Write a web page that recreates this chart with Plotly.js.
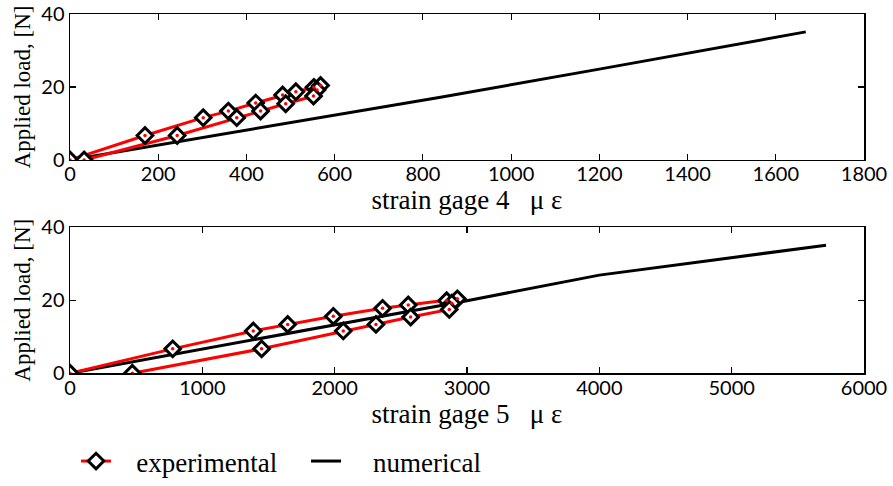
<!DOCTYPE html>
<html>
<head>
<meta charset="utf-8">
<script src="https://cdn.plot.ly/plotly-3.0.1.min.js"></script>
<style>html,body{margin:0;padding:0;background:#fff;}#chart{width:893px;height:486px;}</style>
</head>
<body>
<div id="chart"></div>
<script>
// Experimental loading/unloading cycle (applied load, N)
var loadExp = [0, 6.7, 11.6, 13.4, 15.6, 17.8, 18.7, 19.9, 20.4, 19.2, 17.5, 15.4, 13.4, 11.6, 6.7, 0];
// Strain gage 4 experimental strains (micro-strain)
var strain4Exp = [0, 170, 302, 359, 421, 482, 512, 553, 568, 560, 552, 489, 432, 378, 243, 32];
// Strain gage 5 experimental strains (micro-strain)
var strain5Exp = [0, 776, 1385, 1645, 1990, 2362, 2556, 2846, 2927, 2885, 2866, 2574, 2312, 2065, 1448, 471];
// Numerical curves
var strain4Num = [0, 840, 1200, 1668];
var load4Num = [0, 17.2, 24.9, 35.1];
var strain5Num = [0, 1000, 2000, 3000, 4000, 5713];
var load5Num = [0, 6.6, 13.3, 19.9, 26.9, 35.1];
// Axis ticks
var xTicks4 = [0, 200, 400, 600, 800, 1000, 1200, 1400, 1600, 1800];
var xTicks5 = [0, 1000, 2000, 3000, 4000, 5000, 6000];
var yTicks = [0, 20, 40];

var serif = '"Liberation Serif", "Times New Roman", serif';
var sans = 'Lato, "Open Sans", sans-serif';

var expLine = {color: 'red', width: 3};
var expMarker = {symbol: 'diamond', size: 12, color: 'white', line: {color: 'black', width: 3}};
var dotMarker = {symbol: 'circle', size: 3.5, color: 'red', line: {width: 0}};
var numLine = {color: 'black', width: 3};
var padExp = '&nbsp;&nbsp;&nbsp;';
var padNum = '&nbsp;&nbsp;&nbsp;&nbsp;';

var traces = [
  {x: strain4Num, y: load4Num, xaxis: 'x', yaxis: 'y', mode: 'lines', line: numLine, name: padNum + 'numerical', showlegend: false, legendgroup: 'num'},
  {x: strain4Exp, y: loadExp, xaxis: 'x', yaxis: 'y', mode: 'lines+markers', line: expLine, marker: expMarker, name: padExp + 'experimental', showlegend: true, legendgroup: 'exp'},
  {x: strain4Exp, y: loadExp, xaxis: 'x', yaxis: 'y', mode: 'markers', marker: dotMarker, showlegend: false, hoverinfo: 'skip'},
  {x: strain5Num, y: load5Num, xaxis: 'x2', yaxis: 'y2', mode: 'lines', line: numLine, name: padNum + 'numerical', showlegend: true, legendgroup: 'num'},
  {x: strain5Exp, y: loadExp, xaxis: 'x2', yaxis: 'y2', mode: 'lines+markers', line: expLine, marker: expMarker, name: padExp + 'experimental', showlegend: false, legendgroup: 'exp'},
  {x: strain5Exp, y: loadExp, xaxis: 'x2', yaxis: 'y2', mode: 'markers', marker: dotMarker, showlegend: false, hoverinfo: 'skip'}
];

function xAxis(ticks, range, title, anchor) {
  return {
    range: range, tickvals: ticks, ticktext: ticks.map(String),
    ticks: 'inside', ticklen: 6, tickwidth: 1.2, tickcolor: 'black',
    showline: true, linecolor: 'black', linewidth: 1.5, mirror: 'ticks',
    showgrid: false, zeroline: false, anchor: anchor,
    ticklabelstandoff: -4,
    tickfont: {family: sans, size: 20, color: 'black'},
    title: {text: title, font: {family: serif, size: 27, color: 'black'}, standoff: 0}
  };
}
function yAxis(domain, anchor) {
  return {
    domain: domain, range: [0, 40], tickvals: yTicks, ticktext: yTicks.map(String),
    ticks: 'inside', ticklen: 6, tickwidth: 1.2, tickcolor: 'black',
    showline: true, linecolor: 'black', linewidth: 1.5, mirror: 'ticks',
    showgrid: false, zeroline: false, anchor: anchor,
    tickfont: {family: sans, size: 20, color: 'black'},
    title: {text: 'Applied load, [N]', font: {family: serif, size: 23, color: 'black'}, standoff: 4}
  };
}

var layout = {
  width: 893, height: 486,
  margin: {l: 70, r: 29, t: 14, b: 0},
  paper_bgcolor: 'white', plot_bgcolor: 'white',
  showlegend: true,
  legend: {
    orientation: 'h', x: 0.0076, xanchor: 'left', y: 0, yanchor: 'bottom',
    font: {family: serif, size: 27, color: 'black'},
    itemwidth: 30, entrywidth: 185, bgcolor: 'rgba(0,0,0,0)', traceorder: 'normal'
  },
  xaxis: xAxis(xTicks4, [0, 1800], 'strain gage 4 &nbsp; μ ε', 'y'),
  yaxis: yAxis([0.6907, 1], 'x'),
  xaxis2: xAxis(xTicks5, [0, 6000], 'strain gage 5 &nbsp; μ ε', 'y2'),
  yaxis2: yAxis([0.2388, 0.5481], 'x2')
};

Plotly.newPlot('chart', traces, layout, {displayModeBar: false, staticPlot: true});
</script>
</body>
</html>
